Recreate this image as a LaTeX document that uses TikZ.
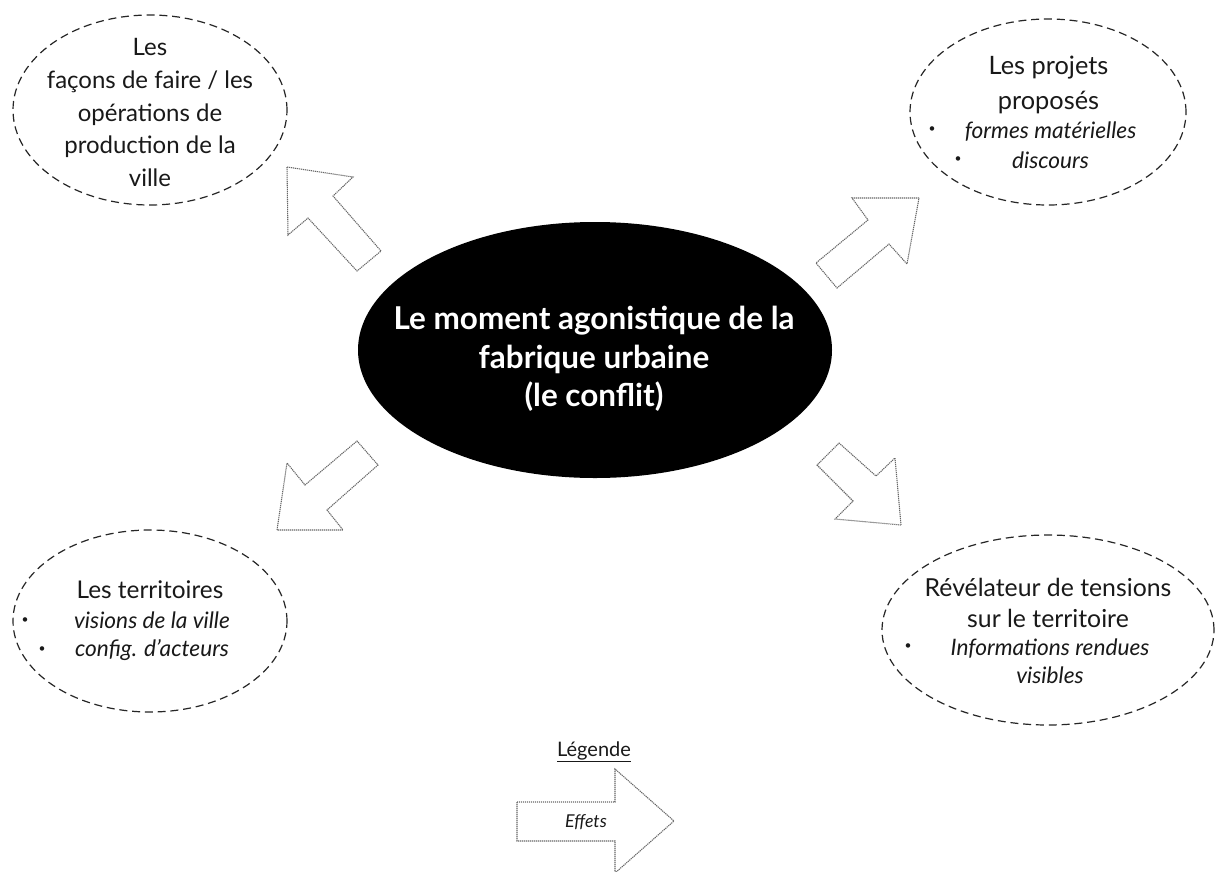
\documentclass[tikz,border=0pt]{standalone}
\usepackage{fontspec}
\setmainfont{Lato}
\usetikzlibrary{shapes.geometric}
\tikzset{
  bubble/.style={draw=black!85, dashed, dash pattern=on 6pt off 3.6pt, line width=0.9pt, ellipse},
  effarrow/.style={draw=black!60, line width=0.8pt, dash pattern=on 0.9pt off 0.6pt, fill=white},
  title/.style={align=center, inner sep=0pt, text=black!90, font=\fontsize{18.3}{24.6}\selectfont},
  items/.style={align=center, inner sep=0pt, text=black!90, font=\itshape\fontsize{17}{21}\selectfont},
  bul/.style={inner sep=0pt, text=black!90, font=\fontsize{9}{9}\selectfont},
}
\begin{document}
\begin{tikzpicture}[x=0.75pt,y=-0.75pt]
\useasboundingbox (0,0) rectangle (1217,871);
\fill[white] (0,0) rectangle (1217,871);

% central ellipse
\node[ellipse, fill=black, minimum width=474*0.75pt, minimum height=256*0.75pt, inner sep=0pt] (center) at (595,350) {};
\node[align=center, text=white, inner sep=0pt, font=\bfseries\fontsize{23.6}{29}\selectfont] (ctext) at (594,359)
  {Le moment agonistique de la\\fabrique urbaine\\(le conflit)};

% top-left bubble
\node[bubble, minimum width=274*0.75pt, minimum height=190*0.75pt] (tl) at (150,110) {};
\node[title, font=\fontsize{18}{24.6}\selectfont] (tltext) at (150,112.5) {Les\\façons de faire / les\\opérations de\\production de la\\ville};

% top-right bubble
\node[bubble, minimum width=276*0.75pt, minimum height=186*0.75pt] (tr) at (1048,112) {};
\node[title, font=\fontsize{19}{26.25}\selectfont] (trtitle) at (1048.5,84.5) {Les projets\\proposés};
\node[items, font=\itshape\fontsize{17}{22.5}\selectfont] (tritems) at (1050.5,145) {formes matérielles\\discours};
\node[bul] (trb1) at (932,130) {•};
\node[bul] (trb2) at (958,160) {•};

% bottom-left bubble
\node[bubble, minimum width=274*0.75pt, minimum height=182*0.75pt] (bl) at (150,621) {};
\node[title] (bltitle) at (150,590) {Les territoires};
\node[items] (blitems) at (152,636) {visions de la ville\\config. d’acteurs};
\node[bul] (blb1) at (25,621) {•};
\node[bul] (blb2) at (42,650) {•};

% bottom-right bubble
\node[bubble, minimum width=332*0.75pt, minimum height=190*0.75pt] (br) at (1048,630) {};
\node[title, font=\fontsize{18.6}{23.25}\selectfont] (brtitle) at (1048,602.5) {Révélateur de tensions\\sur le territoire};
\node[items] (britems) at (1050,661) {Informations rendues\\visibles};
\node[bul] (brb1) at (908,647) {•};

% block arrows (effects)
\draw[effarrow] (287,167) -- (353,177) -- (333,196) -- (381,251) -- (357,271) -- (308,218) -- (288,235) -- cycle;
\draw[effarrow] (919,198) -- (852,198) -- (868,220) -- (816,263) -- (837,288) -- (889,244) -- (907,264) -- cycle;
\draw[effarrow] (277,530) -- (287,463) -- (305,485) -- (357,441) -- (378,465) -- (327,510) -- (343,530) -- cycle;
\draw[effarrow] (901,525) -- (895,458) -- (876,476) -- (839,443) -- (817,465) -- (853,501) -- (835,519) -- cycle;

% legend
\node[inner sep=0pt, text=black!90, font=\fontsize{15}{17}\selectfont] (leg) at (594,752) {\underline{Légende}};
\draw[effarrow] (517,802) -- (615,802) -- (615,769) -- (674,821) -- (615,873) -- (615,841) -- (517,841) -- cycle;
\node[inner sep=0pt, text=black!90, font=\itshape\fontsize{13.3}{15}\selectfont] (eff) at (586,822) {Effets};
\end{tikzpicture}
\end{document}
